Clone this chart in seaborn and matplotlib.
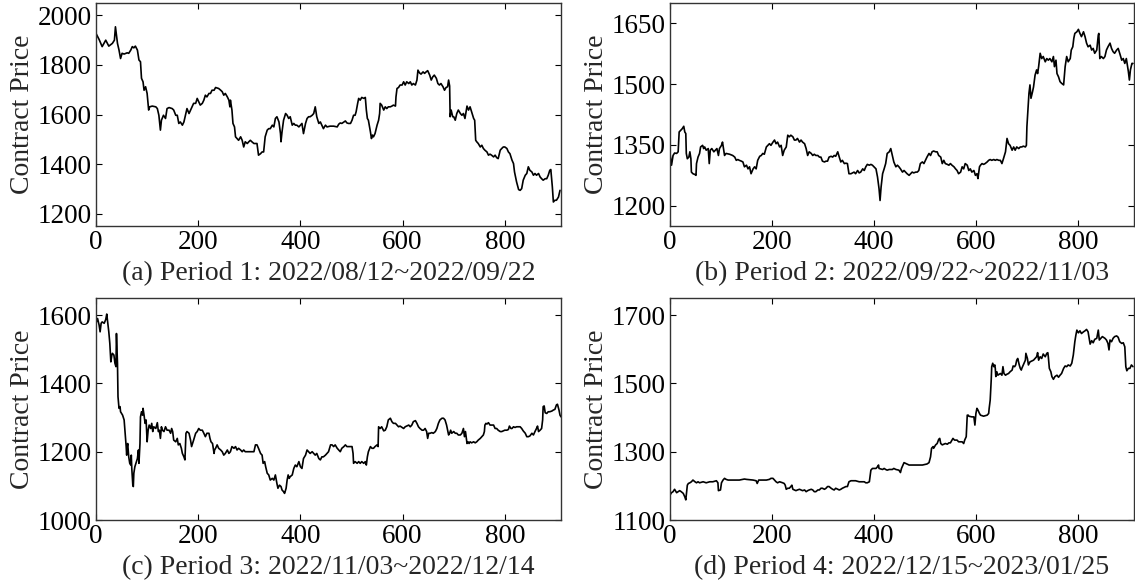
import matplotlib
matplotlib.use("Agg")
import matplotlib.pyplot as plt
import seaborn as sns
import pandas as pd

# ---------------- data ----------------
p1_x = [0, 6, 12, 19, 25, 32, 36, 38, 42, 45, 48, 51, 55, 61, 64, 68, 71, 74, 77, 81, 84, 87, 89, 92, 94, 97, 100, 103, 105, 110,
        117, 120, 123, 126, 128, 132, 136, 139, 143, 149, 152, 156, 159, 162, 165, 169, 172, 175, 178, 182, 185, 188, 191, 195, 198,
        201, 204, 208, 211, 214, 217, 221, 224, 227, 231, 234, 240, 244, 247, 250, 253, 257, 260, 262, 263, 266, 268, 271, 273, 276,
        279, 283, 286, 289, 292, 296, 299, 302, 305, 309, 312, 315, 318, 322, 325, 328, 331, 335, 338, 341, 345, 348, 351, 354, 358,
        361, 362, 364, 367, 371, 374, 377, 380, 384, 387, 390, 393, 397, 400, 403, 406, 410, 413, 416, 419, 423, 426, 429, 432, 436,
        439, 442, 445, 449, 452, 458, 465, 472, 475, 478, 481, 485, 488, 491, 494, 498, 501, 504, 507, 509, 512, 514, 517, 520, 524,
        527, 529, 531, 533, 537, 539, 541, 543, 546, 550, 553, 555, 556, 559, 563, 566, 569, 572, 576, 579, 582, 586, 587, 589, 592,
        595, 599, 602, 605, 608, 612, 615, 618, 621, 625, 628, 630, 633, 636, 640, 643, 646, 649, 653, 656, 659, 662, 666, 669, 672,
        675, 679, 682, 685, 688, 690, 692, 693, 695, 698, 700, 703, 706, 709, 713, 716, 719, 722, 726, 729, 732, 735, 739, 741, 743,
        745, 748, 752, 755, 758, 761, 765, 768, 771, 774, 778, 781, 784, 787, 791, 794, 797, 800, 804, 807, 810, 814, 817, 819, 821,
        823, 827, 830, 833, 836, 840, 843, 846, 849, 853, 856, 859, 862, 866, 869, 872, 875, 879, 882, 885, 888, 890, 893, 895, 898,
        901, 905, 908]
p1_y = [1927, 1903, 1874, 1900, 1876, 1887, 1900, 1954, 1887, 1860, 1826, 1847, 1844, 1849, 1847, 1860, 1874, 1869, 1876, 1860,
        1820, 1813, 1746, 1732, 1698, 1712, 1685, 1618, 1631, 1634, 1631, 1624, 1597, 1537, 1577, 1597, 1584, 1624, 1628, 1624, 1618,
        1597, 1597, 1564, 1570, 1557, 1570, 1597, 1624, 1604, 1618, 1631, 1645, 1645, 1665, 1651, 1638, 1645, 1658, 1678, 1671, 1685,
        1685, 1698, 1698, 1709, 1705, 1698, 1692, 1678, 1685, 1671, 1658, 1631, 1658, 1618, 1564, 1550, 1510, 1503, 1496, 1510, 1496,
        1469, 1490, 1483, 1490, 1496, 1490, 1483, 1483, 1483, 1436, 1442, 1449, 1449, 1510, 1537, 1543, 1543, 1557, 1550, 1584, 1591,
        1570, 1523, 1490, 1530, 1577, 1604, 1597, 1584, 1591, 1557, 1564, 1557, 1557, 1550, 1557, 1564, 1523, 1564, 1584, 1591, 1591,
        1597, 1604, 1631, 1591, 1564, 1570, 1557, 1543, 1557, 1550, 1553, 1553, 1550, 1561, 1566, 1564, 1570, 1574, 1566, 1564, 1564,
        1577, 1597, 1597, 1611, 1645, 1665, 1658, 1669, 1665, 1669, 1618, 1584, 1577, 1530, 1503, 1517, 1510, 1523, 1557, 1577, 1604,
        1645, 1638, 1618, 1631, 1624, 1631, 1631, 1634, 1638, 1634, 1671, 1705, 1709, 1719, 1719, 1732, 1719, 1732, 1725, 1732, 1719,
        1725, 1719, 1739, 1779, 1768, 1763, 1772, 1766, 1772, 1777, 1759, 1739, 1752, 1759, 1746, 1725, 1719, 1725, 1712, 1698, 1709,
        1712, 1739, 1715, 1591, 1618, 1591, 1591, 1577, 1604, 1618, 1604, 1597, 1604, 1584, 1634, 1618, 1631, 1611, 1584, 1577, 1496,
        1490, 1483, 1469, 1476, 1463, 1456, 1449, 1436, 1440, 1436, 1429, 1436, 1426, 1422, 1456, 1463, 1469, 1469, 1463, 1449, 1442,
        1416, 1402, 1368, 1348, 1328, 1297, 1294, 1301, 1335, 1355, 1362, 1389, 1375, 1368, 1355, 1362, 1355, 1362, 1348, 1341, 1335,
        1341, 1341, 1355, 1375, 1378, 1308, 1247, 1254, 1254, 1267, 1294]

p2_x = [0, 3, 6, 9, 13, 16, 18, 21, 24, 27, 29, 31, 32, 34, 37, 39, 41, 42, 45, 49, 51, 52, 55, 58, 60, 64, 66, 68, 71, 75, 77, 79,
        82, 86, 89, 92, 95, 97, 101, 103, 105, 107, 110, 117, 123, 127, 130, 133, 136, 140, 143, 146, 150, 153, 156, 159, 163, 166,
        169, 172, 176, 179, 182, 185, 189, 192, 195, 198, 202, 205, 208, 211, 215, 218, 221, 224, 228, 231, 234, 237, 241, 244, 247,
        250, 254, 257, 260, 264, 267, 270, 273, 277, 280, 283, 286, 290, 293, 296, 299, 303, 306, 309, 312, 316, 319, 322, 325, 329,
        332, 335, 338, 342, 345, 348, 351, 355, 358, 361, 364, 368, 371, 374, 378, 381, 384, 387, 391, 394, 397, 400, 404, 407, 410,
        412, 414, 417, 420, 423, 426, 430, 433, 436, 439, 443, 446, 449, 452, 456, 459, 462, 465, 469, 472, 475, 478, 482, 485, 488,
        491, 495, 498, 501, 504, 508, 511, 514, 517, 521, 524, 527, 531, 534, 537, 540, 544, 547, 550, 553, 557, 560, 563, 566, 570,
        573, 576, 579, 583, 586, 589, 592, 596, 599, 602, 604, 607, 609, 612, 615, 618, 622, 625, 628, 631, 635, 638, 641, 645, 648,
        651, 654, 658, 661, 664, 667, 671, 674, 677, 680, 684, 687, 690, 693, 697, 699, 700, 702, 704, 706, 708, 711, 713, 716, 719,
        721, 723, 726, 729, 732, 736, 739, 742, 745, 749, 752, 754, 757, 759, 762, 765, 768, 772, 775, 778, 781, 785, 787, 790, 792,
        794, 798, 801, 804, 807, 811, 814, 817, 820, 824, 827, 830, 833, 837, 840, 841, 843, 846, 850, 853, 856, 859, 863, 866, 869,
        872, 876, 879, 882, 886, 889, 892, 895, 899, 901, 903, 906, 908]
p2_y = [1329, 1300, 1324, 1330, 1329, 1333, 1382, 1386, 1390, 1396, 1382, 1378, 1329, 1316, 1320, 1333, 1316, 1283, 1279, 1277,
        1275, 1304, 1320, 1329, 1345, 1349, 1341, 1345, 1337, 1341, 1304, 1337, 1341, 1333, 1337, 1341, 1324, 1341, 1349, 1357, 1341,
        1324, 1329, 1327, 1324, 1320, 1312, 1314, 1312, 1310, 1308, 1296, 1300, 1291, 1296, 1279, 1291, 1296, 1291, 1312, 1322, 1324,
        1329, 1327, 1345, 1349, 1353, 1349, 1357, 1362, 1353, 1357, 1345, 1349, 1324, 1337, 1345, 1374, 1370, 1374, 1370, 1362, 1362,
        1366, 1357, 1362, 1357, 1353, 1341, 1324, 1333, 1329, 1324, 1327, 1324, 1324, 1320, 1320, 1310, 1308, 1310, 1310, 1320, 1322,
        1320, 1324, 1322, 1333, 1320, 1308, 1312, 1304, 1305, 1304, 1279, 1279, 1281, 1283, 1279, 1287, 1281, 1283, 1291, 1287, 1296,
        1302, 1300, 1302, 1300, 1296, 1291, 1271, 1242, 1213, 1246, 1279, 1291, 1304, 1329, 1333, 1341, 1324, 1308, 1296, 1300, 1296,
        1291, 1283, 1287, 1283, 1279, 1275, 1279, 1283, 1281, 1283, 1283, 1287, 1304, 1308, 1304, 1312, 1320, 1329, 1324, 1333, 1335,
        1333, 1333, 1324, 1320, 1304, 1312, 1304, 1302, 1300, 1304, 1300, 1296, 1291, 1287, 1279, 1283, 1296, 1291, 1304, 1300, 1287,
        1291, 1283, 1287, 1275, 1279, 1267, 1296, 1300, 1304, 1302, 1304, 1308, 1312, 1314, 1312, 1314, 1312, 1314, 1312, 1312, 1304,
        1316, 1333, 1366, 1353, 1349, 1337, 1345, 1337, 1345, 1341, 1345, 1345, 1347, 1345, 1349, 1395, 1436, 1477, 1498, 1465, 1481,
        1493, 1522, 1535, 1526, 1543, 1576, 1563, 1568, 1555, 1563, 1559, 1563, 1555, 1568, 1543, 1559, 1526, 1518, 1506, 1502, 1498,
        1543, 1568, 1555, 1563, 1584, 1592, 1613, 1625, 1629, 1635, 1625, 1617, 1629, 1617, 1601, 1592, 1596, 1584, 1588, 1576, 1584,
        1621, 1625, 1563, 1568, 1563, 1568, 1584, 1592, 1601, 1588, 1580, 1576, 1584, 1588, 1576, 1559, 1563, 1551, 1563, 1531, 1510,
        1535, 1551, 1551]

p3_x = [1, 3, 6, 8, 10, 12, 16, 19, 21, 22, 24, 25, 27, 29, 31, 32, 35, 37, 39, 40, 42, 43, 45, 47, 48, 50, 52, 55, 57, 59, 60, 61,
        62, 64, 66, 68, 69, 70, 72, 73, 74, 76, 78, 81, 83, 84, 86, 87, 89, 91, 92, 94, 96, 98, 99, 100, 102, 104, 107, 109, 111, 113,
        117, 120, 122, 124, 126, 128, 130, 133, 136, 139, 143, 146, 148, 150, 152, 156, 159, 161, 164, 167, 169, 172, 174, 176, 178,
        182, 185, 187, 189, 191, 195, 198, 201, 204, 208, 211, 214, 217, 221, 223, 225, 228, 231, 232, 234, 237, 240, 244, 247, 250,
        253, 257, 260, 263, 266, 270, 273, 276, 279, 283, 286, 289, 292, 296, 302, 309, 312, 315, 318, 322, 325, 327, 330, 332, 335,
        338, 341, 345, 348, 351, 354, 356, 359, 362, 364, 367, 369, 372, 374, 376, 378, 380, 384, 387, 390, 393, 397, 400, 403, 406,
        410, 413, 416, 419, 423, 426, 429, 432, 436, 439, 442, 445, 449, 452, 455, 459, 462, 465, 468, 472, 475, 478, 481, 485, 488,
        491, 498, 501, 503, 504, 507, 511, 514, 517, 520, 524, 527, 529, 531, 533, 537, 540, 543, 546, 550, 552, 553, 556, 559, 563,
        566, 569, 572, 576, 579, 582, 586, 589, 592, 595, 599, 602, 605, 608, 612, 615, 618, 621, 625, 628, 631, 634, 638, 641, 644,
        647, 649, 651, 654, 657, 660, 664, 667, 670, 673, 677, 680, 683, 686, 690, 692, 694, 696, 700, 703, 706, 709, 713, 716, 719,
        721, 723, 726, 728, 730, 732, 735, 739, 742, 745, 748, 752, 755, 758, 760, 761, 763, 765, 768, 771, 774, 778, 781, 784, 787,
        791, 794, 797, 800, 804, 807, 809, 812, 814, 817, 820, 823, 827, 830, 833, 836, 840, 843, 846, 849, 853, 856, 859, 862, 864,
        866, 869, 872, 874, 875, 877, 879, 882, 885, 888, 892, 895, 898, 901, 903, 906, 908, 910]
p3_y = [1580, 1590, 1571, 1551, 1576, 1580, 1576, 1587, 1603, 1590, 1566, 1551, 1517, 1463, 1483, 1488, 1483, 1459, 1449, 1546,
        1459, 1361, 1327, 1332, 1317, 1312, 1307, 1293, 1254, 1215, 1190, 1215, 1224, 1185, 1166, 1161, 1190, 1151, 1102, 1098, 1137,
        1156, 1166, 1180, 1205, 1166, 1224, 1302, 1317, 1307, 1327, 1307, 1283, 1293, 1263, 1229, 1263, 1278, 1268, 1283, 1259, 1273,
        1268, 1285, 1259, 1263, 1239, 1273, 1263, 1259, 1273, 1263, 1263, 1254, 1268, 1259, 1234, 1229, 1239, 1220, 1224, 1210, 1195,
        1185, 1176, 1254, 1259, 1254, 1234, 1215, 1224, 1234, 1254, 1259, 1268, 1263, 1263, 1254, 1244, 1254, 1254, 1239, 1229, 1224,
        1195, 1205, 1210, 1220, 1210, 1205, 1200, 1190, 1195, 1205, 1195, 1200, 1215, 1210, 1215, 1205, 1210, 1205, 1200, 1205, 1200,
        1200, 1200, 1200, 1220, 1220, 1210, 1195, 1190, 1166, 1171, 1156, 1137, 1132, 1117, 1122, 1117, 1132, 1107, 1093, 1102, 1098,
        1088, 1083, 1078, 1093, 1117, 1132, 1122, 1127, 1132, 1151, 1161, 1156, 1171, 1156, 1151, 1180, 1190, 1205, 1200, 1195, 1200,
        1195, 1190, 1195, 1180, 1176, 1185, 1185, 1190, 1195, 1200, 1220, 1220, 1215, 1220, 1210, 1205, 1200, 1210, 1215, 1220, 1215,
        1215, 1215, 1195, 1166, 1171, 1166, 1171, 1166, 1171, 1166, 1171, 1161, 1185, 1200, 1215, 1210, 1210, 1215, 1220, 1215, 1273,
        1268, 1273, 1261, 1263, 1273, 1293, 1298, 1288, 1283, 1283, 1278, 1273, 1275, 1271, 1268, 1273, 1275, 1278, 1273, 1278, 1288,
        1291, 1283, 1273, 1268, 1263, 1263, 1268, 1259, 1239, 1254, 1254, 1256, 1254, 1259, 1268, 1283, 1293, 1298, 1298, 1293, 1278,
        1249, 1254, 1263, 1254, 1259, 1254, 1254, 1249, 1249, 1254, 1268, 1244, 1259, 1224, 1229, 1224, 1229, 1226, 1229, 1226, 1229,
        1234, 1239, 1244, 1249, 1259, 1278, 1283, 1281, 1285, 1278, 1278, 1278, 1268, 1268, 1263, 1259, 1259, 1261, 1263, 1263, 1265,
        1275, 1268, 1268, 1273, 1271, 1273, 1273, 1273, 1268, 1261, 1254, 1244, 1244, 1246, 1254, 1249, 1259, 1268, 1275, 1259, 1263,
        1268, 1293, 1332, 1334, 1314, 1312, 1317, 1317, 1319, 1322, 1324, 1337, 1339, 1322, 1307, 1302]

p4_x = [0, 3, 6, 9, 13, 16, 19, 22, 26, 29, 31, 32, 34, 36, 39, 42, 45, 49, 52, 55, 58, 65, 71, 78, 84, 91, 94, 95, 99, 101, 104,
        107, 110, 114, 123, 136, 146, 150, 163, 169, 171, 174, 189, 195, 198, 202, 205, 208, 211, 215, 221, 224, 226, 228, 231, 234,
        237, 239, 241, 244, 247, 250, 254, 257, 260, 264, 267, 270, 273, 277, 280, 283, 286, 290, 293, 296, 299, 303, 306, 309, 312,
        316, 319, 322, 325, 329, 332, 335, 338, 345, 348, 351, 355, 364, 371, 381, 384, 387, 391, 394, 397, 404, 407, 409, 410, 417,
        420, 423, 426, 430, 436, 439, 443, 449, 452, 454, 457, 459, 462, 465, 469, 482, 495, 504, 508, 511, 513, 516, 517, 521, 524,
        527, 529, 531, 534, 537, 540, 544, 547, 550, 553, 555, 558, 563, 566, 573, 576, 578, 581, 583, 585, 586, 592, 596, 598, 600,
        602, 604, 607, 609, 615, 622, 625, 626, 628, 630, 631, 633, 635, 637, 638, 639, 641, 643, 648, 651, 653, 655, 658, 661, 664,
        667, 671, 673, 676, 678, 680, 682, 685, 687, 689, 690, 693, 697, 698, 701, 703, 706, 713, 716, 719, 721, 723, 726, 729, 732,
        736, 739, 741, 742, 744, 747, 749, 752, 755, 759, 762, 765, 768, 772, 775, 778, 781, 785, 788, 791, 794, 796, 798, 801, 804,
        807, 811, 814, 817, 820, 822, 824, 827, 830, 833, 837, 840, 842, 845, 848, 853, 856, 859, 861, 863, 866, 869, 872, 876, 879,
        882, 886, 889, 892, 894, 896, 899, 902, 905, 908]
p4_y = [1173, 1180, 1183, 1190, 1180, 1183, 1186, 1183, 1178, 1168, 1159, 1173, 1202, 1207, 1209, 1212, 1217, 1212, 1209, 1212,
        1209, 1212, 1209, 1212, 1212, 1215, 1209, 1186, 1188, 1209, 1217, 1222, 1219, 1217, 1217, 1217, 1220, 1219, 1217, 1215, 1207,
        1217, 1217, 1219, 1222, 1222, 1217, 1212, 1209, 1212, 1209, 1207, 1202, 1190, 1193, 1193, 1198, 1202, 1190, 1188, 1186, 1188,
        1190, 1188, 1186, 1188, 1183, 1186, 1188, 1190, 1188, 1183, 1183, 1188, 1188, 1193, 1193, 1190, 1193, 1198, 1198, 1193, 1190,
        1188, 1193, 1190, 1188, 1190, 1193, 1198, 1198, 1212, 1215, 1215, 1212, 1212, 1209, 1209, 1212, 1246, 1251, 1251, 1256, 1261,
        1251, 1248, 1251, 1248, 1246, 1248, 1248, 1251, 1248, 1246, 1239, 1251, 1261, 1268, 1266, 1264, 1261, 1261, 1261, 1264, 1268,
        1285, 1310, 1315, 1310, 1320, 1324, 1336, 1339, 1324, 1320, 1322, 1324, 1322, 1326, 1326, 1334, 1339, 1334, 1334, 1329, 1329,
        1324, 1334, 1344, 1407, 1407, 1404, 1402, 1402, 1378, 1412, 1427, 1422, 1412, 1407, 1404, 1407, 1412, 1427, 1451, 1510, 1549,
        1559, 1549, 1554, 1544, 1520, 1534, 1524, 1529, 1524, 1549, 1529, 1524, 1527, 1529, 1534, 1539, 1551, 1549, 1554, 1568, 1573,
        1554, 1544, 1539, 1544, 1554, 1568, 1588, 1573, 1554, 1563, 1568, 1573, 1578, 1590, 1568, 1578, 1573, 1586, 1578, 1588, 1590,
        1578, 1544, 1534, 1520, 1512, 1520, 1524, 1518, 1524, 1529, 1544, 1551, 1549, 1554, 1551, 1559, 1583, 1622, 1641, 1656, 1648,
        1654, 1646, 1651, 1654, 1658, 1651, 1632, 1615, 1625, 1619, 1629, 1632, 1656, 1627, 1632, 1637, 1632, 1627, 1617, 1598, 1627,
        1622, 1632, 1637, 1639, 1635, 1622, 1617, 1619, 1607, 1549, 1537, 1544, 1544, 1554, 1549]

panel_labels = ["(a) Period 1: 2022/08/12~2022/09/22",
                "(b) Period 2: 2022/09/22~2022/11/03",
                "(c) Period 3: 2022/11/03~2022/12/14",
                "(d) Period 4: 2022/12/15~2023/01/25"]
x_ticks = [0, 200, 400, 600, 800]
y_ticks = [[1200, 1400, 1600, 1800, 2000],
           [1200, 1350, 1500, 1650],
           [1000, 1200, 1400, 1600],
           [1100, 1300, 1500, 1700]]
y_limits = [(1150, 2050), (1150, 1700), (1000, 1650), (1100, 1750)]
x_limit = (0, 910)
y_label = "Contract Price"

# ---------------- style ----------------
sns.set_style("ticks")
plt.rcParams["font.family"] = ["Liberation Serif", "DejaVu Serif"]
plt.rcParams["axes.linewidth"] = 1.0
plt.rcParams["axes.edgecolor"] = "#333333"

fig = plt.figure(figsize=(11.35, 5.88), dpi=100)
positions = [[0.0846, 0.6156, 0.4097, 0.3793],
             [0.5903, 0.6156, 0.4088, 0.3793],
             [0.0846, 0.1156, 0.4097, 0.3776],
             [0.5903, 0.1156, 0.4088, 0.3776]]

series = [(p1_x, p1_y), (p2_x, p2_y), (p3_x, p3_y), (p4_x, p4_y)]

for i, (xs, ys) in enumerate(series):
    ax = fig.add_axes(positions[i])
    df = pd.DataFrame({"t": xs, "price": ys})
    sns.lineplot(data=df, x="t", y="price", ax=ax, color="black", linewidth=1.2)
    ax.set_xlim(*x_limit)
    ax.set_ylim(*y_limits[i])
    ax.set_xticks(x_ticks)
    ax.set_yticks(y_ticks[i])
    ax.tick_params(direction="in", top=True, right=True, length=4, width=0.8,
                   labelsize=19.5, pad=3, colors="black")
    ax.set_xlabel(panel_labels[i], fontsize=20, labelpad=4)
    ax.set_ylabel(y_label, fontsize=20, labelpad=2)
    for sp in ax.spines.values():
        sp.set_visible(True)
        sp.set_color("#333333")

fig.savefig("out.png", dpi=100)
